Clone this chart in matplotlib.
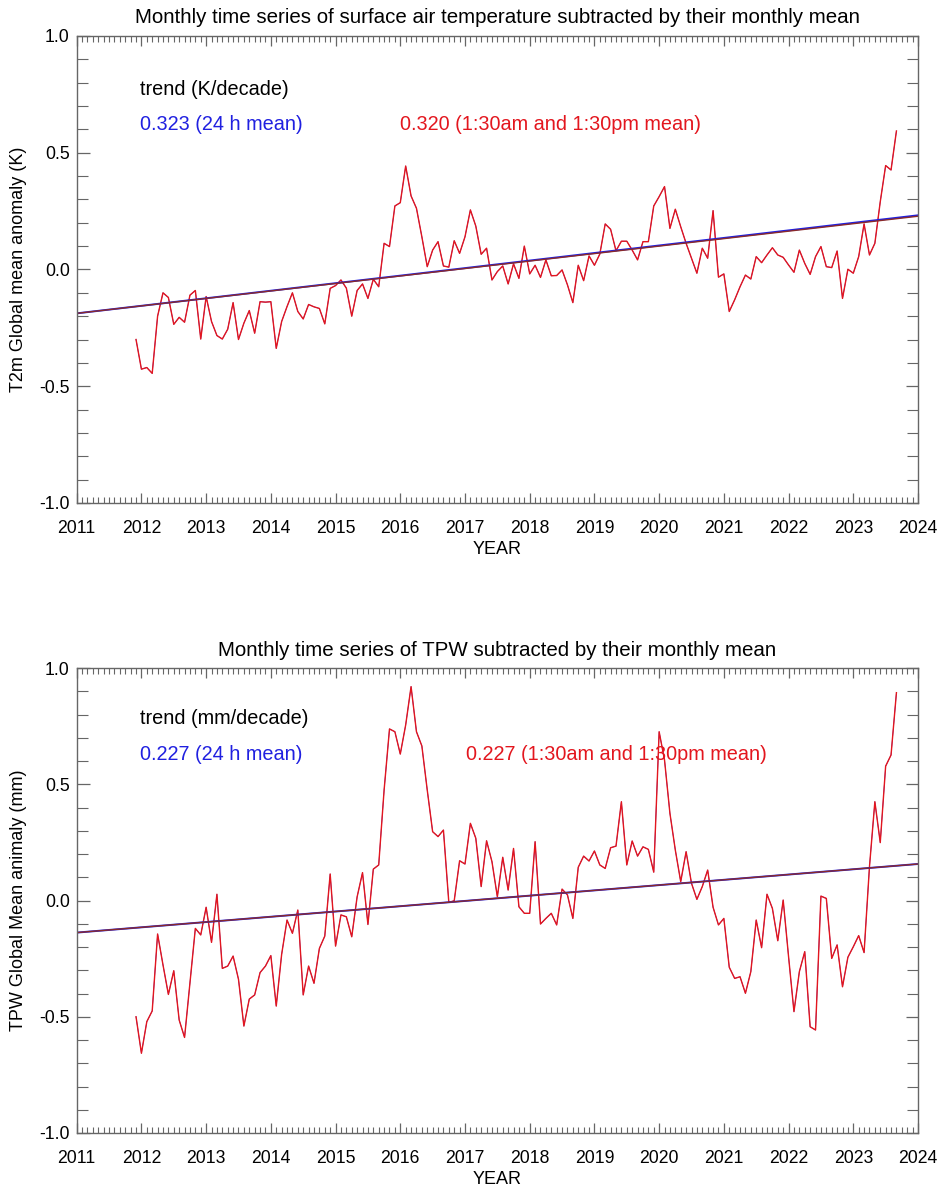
import numpy as np
import pandas as pd
import matplotlib
matplotlib.use("Agg")
import matplotlib.pyplot as plt
from matplotlib.ticker import MultipleLocator, FixedLocator

plt.rcParams['font.family'] = ['Liberation Sans', 'DejaVu Sans']
plt.rcParams['axes.unicode_minus'] = False

# ---- data -------------------------------------------------------------
months = pd.period_range('2011-12', '2023-09', freq='M')

t2m_1330 = [
    -0.30, -0.427, -0.42, -0.445, -0.20, -0.10, -0.12, -0.235, -0.205, -0.226, -0.11, -0.09,
    -0.298, -0.116, -0.223, -0.283, -0.298, -0.256, -0.142, -0.30, -0.23, -0.176, -0.273, -0.138,
    -0.14, -0.138, -0.338, -0.223, -0.159, -0.10, -0.18, -0.212, -0.15, -0.16, -0.167, -0.233,
    -0.081, -0.069, -0.045, -0.08, -0.20, -0.09, -0.062, -0.124, -0.042, -0.074, 0.112, 0.098,
    0.272, 0.286, 0.443, 0.315, 0.262, 0.14, 0.012, 0.083, 0.119, 0.015, 0.01, 0.123,
    0.069, 0.14, 0.255, 0.186, 0.065, 0.091, -0.045, -0.009, 0.015, -0.062, 0.024, -0.038,
    0.10, -0.019, 0.018, -0.034, 0.041, -0.027, -0.026, -0.002, -0.066, -0.142, 0.018, -0.048,
    0.058, 0.018, 0.066, 0.195, 0.172, 0.08, 0.121, 0.121, 0.083, 0.041, 0.119, 0.119,
    0.272, 0.312, 0.355, 0.176, 0.258, 0.183, 0.112, 0.048, -0.016, 0.091, 0.048, 0.252,
    -0.033, -0.019, -0.18, -0.13, -0.074, -0.024, -0.041, 0.055, 0.029, 0.062, 0.093, 0.062,
    0.052, 0.019, -0.012, 0.083, 0.026, -0.021, 0.055, 0.098, 0.012, 0.008, 0.079, -0.124,
    0.001, -0.016, 0.055, 0.195, 0.062, 0.112, 0.29, 0.445, 0.426, 0.593,
]
t2m_24h = list(t2m_1330)  # visually indistinguishable from the 1:30 series

tpw_1330 = [
    -0.50, -0.657, -0.521, -0.475, -0.144, -0.277, -0.404, -0.302, -0.514, -0.589, -0.356, -0.12,
    -0.148, -0.029, -0.18, 0.027, -0.292, -0.282, -0.239, -0.339, -0.54, -0.424, -0.406, -0.31,
    -0.282, -0.237, -0.454, -0.232, -0.084, -0.141, -0.041, -0.406, -0.282, -0.356, -0.206, -0.153,
    0.114, -0.196, -0.062, -0.07, -0.156, 0.016, 0.12, -0.103, 0.135, 0.153, 0.475, 0.738,
    0.726, 0.63, 0.755, 0.92, 0.726, 0.665, 0.475, 0.296, 0.275, 0.303, -0.008, -0.001,
    0.171, 0.157, 0.332, 0.268, 0.06, 0.257, 0.167, 0.016, 0.186, 0.045, 0.224, -0.027,
    -0.055, -0.055, 0.253, -0.101, -0.077, -0.055, -0.105, 0.049, 0.024, -0.077, 0.143, 0.191,
    0.17, 0.213, 0.153, 0.138, 0.227, 0.234, 0.425, 0.153, 0.256, 0.191, 0.231, 0.22,
    0.122, 0.726, 0.604, 0.375, 0.217, 0.081, 0.21, 0.074, 0.005, 0.06, 0.131, -0.029,
    -0.105, -0.077, -0.287, -0.335, -0.328, -0.399, -0.306, -0.084, -0.203, 0.027, -0.034, -0.173,
    0.002, -0.242, -0.478, -0.306, -0.22, -0.543, -0.557, 0.019, 0.009, -0.249, -0.191, -0.371,
    -0.244, -0.199, -0.151, -0.224, 0.145, 0.425, 0.249, 0.578, 0.626, 0.894,
]
tpw_24h = list(tpw_1330)

# trends (per decade) and trend-line value at the start of 2011
t2m_trend_24h, t2m_trend_1330 = 0.323, 0.320
tpw_trend_24h, tpw_trend_1330 = 0.227, 0.227
t2m_trend_start = -0.188
tpw_trend_start = -0.138

year_ticks = list(range(2011, 2025))
ytick_vals = [-1.0, -0.5, 0.0, 0.5, 1.0]
ytick_labels = ['-1.0', '-0.5', '0.0', '0.5', '1.0']

# ---- plot -------------------------------------------------------------
x = np.array([p.year + (p.month - 1) / 12.0 for p in months])

fig = plt.figure(figsize=(9.4, 11.91), dpi=100)
ax1 = fig.add_axes([0.0816, 0.5777, 0.8950, 0.3921])
ax2 = fig.add_axes([0.0816, 0.0487, 0.8950, 0.3904])

RED = '#e3161e'
BLUE = '#2020e0'
FRAME = '#666666'
FS = 14.3

def style(ax, ylabel, title):
    ax.set_xlim(2011, 2024)
    ax.set_ylim(-1.0, 1.0)
    ax.xaxis.set_major_locator(FixedLocator(year_ticks))
    ax.set_xticklabels([str(y) for y in year_ticks], fontsize=12.7)
    ax.xaxis.set_minor_locator(MultipleLocator(1 / 12))
    ax.yaxis.set_major_locator(FixedLocator(ytick_vals))
    ax.set_yticklabels(ytick_labels, fontsize=12.7)
    ax.yaxis.set_minor_locator(MultipleLocator(0.1))
    ax.tick_params(which='both', direction='in', top=True, right=True, color=FRAME)
    ax.tick_params(which='major', axis='x', length=7, width=0.9, pad=12)
    ax.tick_params(which='minor', axis='x', length=4, width=0.8)
    ax.tick_params(which='major', axis='y', length=9, width=0.9, pad=5)
    ax.tick_params(which='minor', axis='y', length=8, width=0.8)
    for s in ax.spines.values():
        s.set_color(FRAME)
        s.set_linewidth(1.0)
    ax.set_xlabel('YEAR', fontsize=13, labelpad=3)
    ax.set_ylabel(ylabel, fontsize=13, labelpad=9)
    ax.set_title(title, fontsize=14.8, pad=9)

xt = np.array([2011, 2024])

# top panel
ax1.plot(x, t2m_24h, color=BLUE, lw=0.5)
ax1.plot(x, t2m_1330, color=RED, lw=1.0)
ax1.plot(xt, t2m_trend_start + t2m_trend_24h / 10 * (xt - 2011), color=BLUE, lw=1.4)
ax1.plot(xt, t2m_trend_start + t2m_trend_1330 / 10 * (xt - 2011), color='#8a2a2a', lw=1.0)
style(ax1, 'T2m Global mean anomaly (K)',
      'Monthly time series of surface air temperature subtracted by their monthly mean')
ax1.text(2011.98, 0.77, 'trend (K/decade)', fontsize=FS, color='black', va='center')
ax1.text(2011.98, 0.619, '%.3f (24 h mean)' % t2m_trend_24h, fontsize=FS, color=BLUE, va='center')
ax1.text(2015.99, 0.619, '%.3f (1:30am and 1:30pm mean)' % t2m_trend_1330, fontsize=FS,
         color=RED, va='center')

# bottom panel
ax2.plot(x, tpw_24h, color=BLUE, lw=0.5)
ax2.plot(x, tpw_1330, color=RED, lw=1.0)
ax2.plot(xt, tpw_trend_start + tpw_trend_24h / 10 * (xt - 2011), color=BLUE, lw=1.4)
ax2.plot(xt, tpw_trend_start + tpw_trend_1330 / 10 * (xt - 2011), color='#8a2a2a', lw=1.0)
style(ax2, 'TPW Global Mean animaly (mm)',
      'Monthly time series of TPW subtracted by their monthly mean')
ax2.text(2011.98, 0.785, 'trend (mm/decade)', fontsize=FS, color='black', va='center')
ax2.text(2011.98, 0.627, '%.3f (24 h mean)' % tpw_trend_24h, fontsize=FS, color=BLUE, va='center')
ax2.text(2017.01, 0.627, '%.3f (1:30am and 1:30pm mean)' % tpw_trend_1330, fontsize=FS,
         color=RED, va='center')

fig.savefig('out.png', dpi=100, facecolor='white')
